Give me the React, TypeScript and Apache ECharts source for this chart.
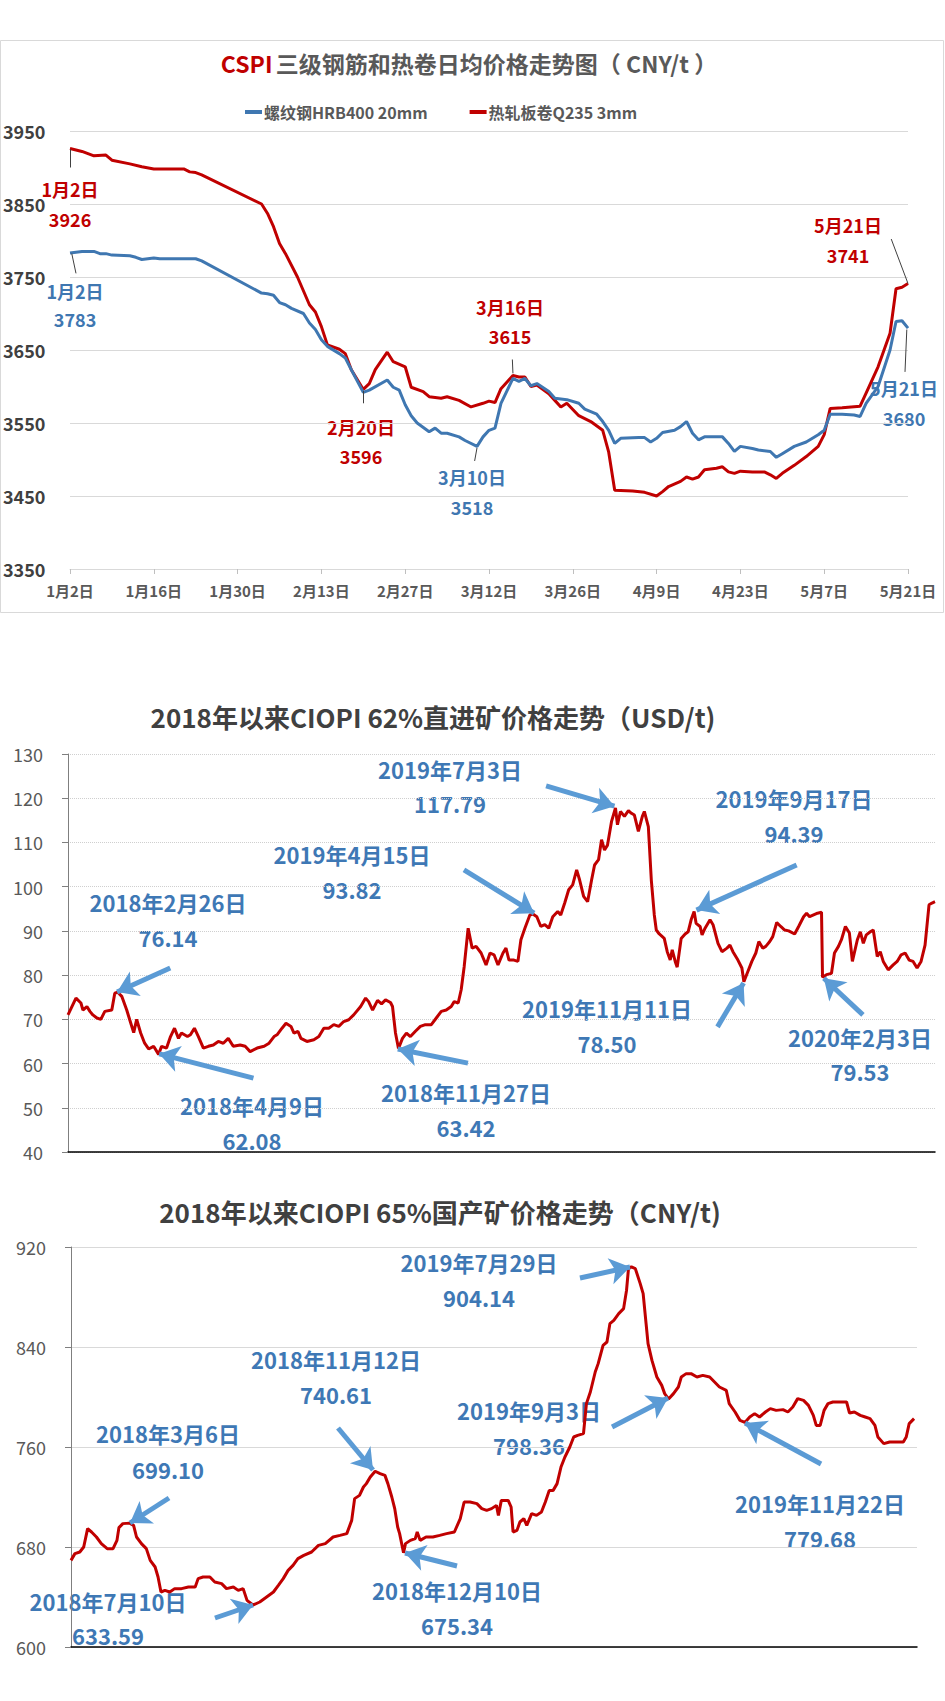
import React, { useEffect, useRef } from "react";
import * as echarts from "echarts";

const FONT = '"Noto Sans CJK SC", "Noto Sans", sans-serif';

// ---------------- Chart 1: CSPI rebar & hot-rolled coil, day index from 2020-01-02 ----------------
const cspiTickInterval = 14;
const cspiLastDay = 140;
const rebarName = "螺纹钢HRB400 20mm";
const hrcName = "热轧板卷Q235 3mm";

const rebarData: [number, number][] = [
  [0, 3783], [2, 3785], [4, 3785], [5, 3782], [6, 3782], [7, 3780], [10, 3779], [11, 3777], [12, 3774],
  [14, 3776], [15, 3775], [21, 3775], [22, 3772], [32, 3728], [33, 3727], [34, 3725], [35, 3715], [36, 3712],
  [37, 3707], [39, 3700], [40, 3687], [41, 3678], [42, 3664], [43, 3655], [45, 3645], [46, 3639], [47, 3623],
  [49, 3592], [50, 3595], [53, 3609], [54, 3599], [55, 3595], [56, 3575], [57, 3560], [58, 3550], [60, 3538],
  [61, 3543], [62, 3536], [63, 3536], [65, 3531], [66, 3526], [68, 3518], [69, 3531], [70, 3540], [71, 3543],
  [72, 3577], [74, 3611], [75, 3607], [76, 3611], [77, 3601], [78, 3604], [80, 3593], [81, 3584], [83, 3582],
  [85, 3577], [86, 3569], [88, 3562], [89, 3552], [90, 3540], [91, 3522], [92, 3529], [95, 3530], [96, 3530],
  [97, 3524], [98, 3529], [99, 3537], [101, 3540], [102, 3545], [103, 3552], [104, 3536], [105, 3527],
  [106, 3531], [109, 3531], [110, 3522], [111, 3511], [112, 3518], [114, 3515], [115, 3513], [117, 3511],
  [118, 3503], [119, 3508], [121, 3518], [123, 3524], [125, 3534], [126, 3540], [127, 3562], [129, 3562],
  [131, 3561], [132, 3559], [133, 3577], [135, 3600], [137, 3650], [138, 3689], [139, 3690], [140, 3680],
];

const hrcData: [number, number][] = [
  [0, 3926], [2, 3922], [4, 3916], [6, 3917], [7, 3910], [10, 3905], [12, 3901], [14, 3898], [19, 3898],
  [20, 3894], [21, 3893], [22, 3890], [32, 3850], [33, 3837], [34, 3819], [35, 3796], [36, 3782], [38, 3750],
  [40, 3712], [41, 3702], [42, 3682], [43, 3657], [45, 3651], [46, 3645], [47, 3623], [49, 3596], [50, 3604],
  [51, 3623], [53, 3647], [54, 3634], [56, 3627], [57, 3599], [59, 3593], [60, 3586], [62, 3584], [63, 3586],
  [65, 3581], [67, 3572], [69, 3577], [70, 3580], [71, 3578], [72, 3597], [74, 3615], [75, 3613], [76, 3613],
  [77, 3600], [78, 3602], [80, 3590], [81, 3581], [82, 3572], [83, 3577], [85, 3560], [87, 3552], [89, 3540],
  [90, 3510], [91, 3458], [94, 3457], [96, 3455], [98, 3450], [99, 3456], [100, 3463], [102, 3470],
  [103, 3476], [104, 3473], [105, 3476], [106, 3486], [108, 3488], [109, 3490], [110, 3483], [111, 3481],
  [112, 3484], [114, 3483], [116, 3483], [117, 3479], [118, 3474], [119, 3481], [121, 3492], [123, 3504],
  [125, 3518], [126, 3534], [127, 3570], [129, 3571], [132, 3573], [133, 3591], [135, 3627], [137, 3673],
  [138, 3734], [139, 3736], [140, 3741],
];

const cspiNoteTexts: [string, string, "red" | "blue"][] = [
  ["1月2日", "3926", "red"],
  ["1月2日", "3783", "blue"],
  ["2月20日", "3596", "red"],
  ["3月10日", "3518", "blue"],
  ["3月16日", "3615", "red"],
  ["5月21日", "3741", "red"],
  ["5月21日", "3680", "blue"],
];

// ---------------- Chart 2: CIOPI 62% imported ore, day index from 2018-01-02 ----------------
const ore62LastDay = 871;
const ore62Data: [number, number][] = [
  [0, 71.0], [8, 74.8], [13, 73.7], [15, 72.1], [19, 72.9], [22, 71.8], [25, 71.0], [29, 70.3], [33, 70.0],
  [37, 71.8], [44, 72.1], [47, 75.9], [50, 76.14], [54, 75.2], [59, 72.1], [62, 69.9], [66, 67.0], [69, 70.0],
  [73, 66.9], [77, 64.6], [81, 63.3], [86, 63.9], [91, 62.08], [94, 63.9], [99, 63.5], [103, 66.1], [107, 68.0],
  [111, 65.7], [114, 66.9], [120, 66.1], [123, 66.5], [127, 68.0], [131, 66.1], [136, 63.5], [141, 63.9],
  [146, 64.2], [151, 65.0], [156, 64.6], [161, 65.7], [166, 63.9], [173, 64.2], [178, 63.9], [183, 62.7],
  [190, 63.5], [197, 63.9], [202, 64.6], [207, 66.1], [210, 66.5], [215, 68.0], [219, 69.1], [224, 68.4],
  [227, 66.9], [231, 67.3], [234, 65.7], [240, 65.0], [247, 65.4], [252, 66.1], [257, 68.0], [262, 68.0],
  [267, 68.8], [272, 68.4], [277, 69.5], [282, 69.9], [287, 71.0], [294, 72.9], [299, 74.8], [302, 74.0],
  [306, 72.1], [311, 74.3], [315, 73.5], [319, 74.4], [324, 73.8], [326, 72.9], [329, 66.9], [332, 63.42],
  [336, 65.7], [340, 66.9], [344, 66.1], [349, 67.3], [354, 68.4], [359, 68.8], [365, 68.8], [370, 70.3],
  [375, 71.8], [380, 72.1], [385, 72.9], [388, 74.0], [392, 73.7], [395, 76.7], [398, 81.9], [402, 90.6],
  [406, 86.1], [410, 86.5], [415, 85.0], [420, 82.3], [424, 85.0], [428, 84.6], [432, 82.3], [437, 85.0],
  [440, 86.1], [443, 83.4], [448, 83.4], [452, 83.1], [455, 88.0], [459, 90.6], [464, 93.6], [467, 93.82],
  [471, 93.2], [475, 91.0], [479, 91.4], [483, 90.6], [487, 93.2], [492, 94.4], [495, 93.6], [499, 96.3],
  [503, 99.3], [507, 100.4], [511, 103.8], [514, 101.5], [518, 97.8], [522, 96.6], [526, 101.5], [529, 104.9],
  [533, 106.1], [536, 110.6], [539, 108.3], [542, 109.4], [546, 114.7], [550, 117.79], [552, 114.0],
  [555, 117.0], [559, 115.9], [563, 117.2], [566, 116.6], [569, 116.2], [573, 112.5], [577, 115.9],
  [579, 117.0], [583, 113.6], [586, 101.5], [589, 93.6], [591, 90.2], [594, 89.3], [599, 88.3], [602, 85.3],
  [605, 83.4], [607, 85.7], [610, 83.1], [612, 81.8], [616, 88.3], [620, 89.3], [623, 89.8], [626, 92.5],
  [629, 94.39], [631, 91.7], [635, 91.0], [637, 89.1], [640, 90.6], [645, 92.5], [648, 91.4], [653, 87.2],
  [657, 85.3], [662, 86.1], [665, 86.8], [668, 85.3], [673, 83.4], [677, 81.6], [679, 78.5], [683, 80.8],
  [687, 83.1], [691, 85.0], [694, 87.6], [698, 86.1], [701, 86.5], [705, 87.6], [708, 88.7], [712, 91.9],
  [716, 91.0], [720, 90.2], [724, 90.0], [730, 89.3], [734, 91.0], [739, 93.2], [742, 94.0], [745, 93.2],
  [749, 93.6], [753, 94.0], [757, 94.2], [758, 79.53], [762, 80.1], [767, 80.4], [770, 85.0], [774, 86.5],
  [777, 88.0], [781, 91.0], [785, 89.5], [788, 83.1], [793, 88.0], [796, 89.8], [799, 87.2], [802, 89.1],
  [806, 89.8], [809, 90.2], [813, 84.2], [816, 85.3], [819, 83.1], [824, 81.2], [829, 82.3], [833, 83.1],
  [837, 84.6], [841, 85.0], [845, 83.4], [849, 83.1], [853, 81.6], [857, 83.1], [861, 86.8], [865, 95.9],
  [868, 96.3], [871, 96.6],
];
const ore62Notes: [string, string][] = [
  ["2018年2月26日", "76.14"],
  ["2018年4月9日", "62.08"],
  ["2018年11月27日", "63.42"],
  ["2019年4月15日", "93.82"],
  ["2019年7月3日", "117.79"],
  ["2019年9月17日", "94.39"],
  ["2019年11月11日", "78.50"],
  ["2020年2月3日", "79.53"],
];

// ---------------- Chart 3: CIOPI 65% domestic ore, day index from 2018-01-02 ----------------
const ore65LastDay = 865;
const ore65Data: [number, number][] = [
  [0, 669.3], [4, 674.7], [9, 676], [13, 680], [17, 694.7], [21, 692], [26, 688], [31, 682.7], [37, 678.7],
  [43, 678.7], [47, 685.3], [49, 695.5], [53, 698.7], [60, 699.1], [64, 697.3], [67, 688], [72, 682.7],
  [77, 678.7], [81, 669.3], [86, 664], [89, 656], [92, 644], [96, 645.3], [101, 644], [106, 646.7],
  [113, 646.7], [120, 648], [127, 648], [130, 654.7], [135, 656], [142, 656], [147, 652], [154, 650.7],
  [159, 646.7], [166, 648], [171, 645.3], [176, 646.7], [180, 637.3], [186, 633.59], [193, 636], [200, 640],
  [207, 644], [212, 649.3], [217, 654.7], [222, 661.3], [227, 665.3], [232, 670.7], [238, 673.3], [246, 676],
  [253, 681.3], [260, 682.7], [268, 688], [275, 689.3], [282, 690.7], [287, 701.3], [290, 718.7],
  [295, 721.3], [299, 728], [302, 730.7], [306, 736], [311, 740.61], [316, 738.7], [321, 737.3], [324, 730.7],
  [328, 720], [331, 710.7], [334, 696], [336, 690.7], [340, 675.34], [342, 682.7], [347, 685.3], [352, 686.7],
  [354, 692], [357, 685.3], [363, 688], [370, 688], [377, 689.3], [384, 690.7], [392, 692], [398, 702.7],
  [402, 716], [408, 716], [415, 714.7], [420, 710.7], [425, 709.3], [430, 710.7], [435, 713.3], [437, 705.3],
  [440, 717.3], [447, 717.3], [450, 712], [452, 692], [456, 693.3], [459, 700], [463, 702.7], [466, 697.3],
  [471, 706.7], [476, 705.3], [481, 708], [485, 716], [489, 725.3], [493, 725.3], [497, 730.7], [501, 744],
  [505, 752], [510, 760], [514, 768], [518, 769.3], [524, 770.7], [527, 794.7], [531, 804], [536, 820],
  [539, 826.7], [544, 841.3], [548, 844], [551, 858.7], [555, 861.3], [560, 866.7], [565, 870.7],
  [568, 885.3], [570, 902.7], [573, 904.14], [577, 902.7], [582, 890.7], [585, 882.7], [588, 858.7],
  [590, 842.7], [594, 829.3], [599, 816], [604, 809.3], [607, 802.7], [611, 798.36], [616, 802.7], [621, 808],
  [624, 816], [629, 818.7], [634, 818.7], [640, 816], [646, 817.3], [653, 816], [658, 812], [663, 808],
  [670, 805.3], [673, 794.7], [679, 788], [684, 781.3], [689, 779.68], [694, 784], [699, 786.7], [704, 784],
  [710, 788], [715, 790.7], [721, 789.3], [728, 789.9], [733, 788], [738, 792], [743, 798.7], [749, 797.3],
  [754, 793.3], [759, 785.3], [762, 777.3], [766, 777.3], [770, 789.3], [774, 794.7], [779, 796], [786, 796],
  [793, 796], [796, 787.2], [801, 788], [807, 785.3], [812, 784], [817, 782.7], [822, 777.3], [825, 768],
  [831, 762.7], [837, 764], [844, 764], [851, 764], [854, 768], [857, 778.7], [862, 782.7],
];
const ore65Notes: [string, string][] = [
  ["2018年3月6日", "699.10"],
  ["2018年7月10日", "633.59"],
  ["2018年11月12日", "740.61"],
  ["2018年12月10日", "675.34"],
  ["2019年7月29日", "904.14"],
  ["2019年9月3日", "798.36"],
  ["2019年11月22日", "779.68"],
];

// ---------------- Layout (pixels / data-space anchors for annotations) ----------------
const cspiNotePos: [number, number, number][] = [
  [70, 189, 219], [75, 291, 319], [361, 427, 456], [472, 477, 507], [510, 307, 336], [848, 225, 255], [904, 388, 418],
];
const ore62NotePos: [number, number, number][] = [
  [168, 902, 937], [252, 1105, 1140], [466, 1092, 1127], [352, 854, 889], [450, 769, 803], [794, 798, 833],
  [607, 1008, 1043], [860, 1037, 1071],
];
const ore65NotePos: [number, number, number][] = [
  [168, 1433, 1469], [108, 1601, 1635], [336, 1359, 1394], [457, 1590, 1625], [479, 1262, 1297],
  [529, 1410, 1445], [820, 1503, 1538],
];
const cspiLeaders: [number, number][][] = [
  [[0, 3925], [0, 3900]],
  [[0.3, 3782], [1, 3755]],
  [[140, 3741], [137.2, 3802]],
  [[74, 3618], [73.9, 3637]],
  [[49, 3594], [49, 3577]],
  [[68, 3516], [67.6, 3498]],
  [[139.8, 3678], [139.5, 3620]],
];
const ore62Arrows: [number, number][][] = [
  [[102.7, 81.6], [49.3, 76.2]],
  [[186.3, 56.7], [91.6, 62.2]],
  [[401.8, 60.1], [331.3, 63.3]],
  [[397.8, 103.8], [468.3, 94.0]],
  [[480.3, 122.8], [549, 118.2]],
  [[732, 104.9], [631.4, 94.7]],
  [[652.5, 68.3], [678.7, 78.2]],
  [[798.6, 71.0], [759.3, 79.3]],
];
const ore65Arrows: [number, number][][] = [
  [[100.2, 719.2], [60.3, 699.2]],
  [[147.2, 623.2], [186.1, 633.6]],
  [[273, 775.2], [308.8, 741.6]],
  [[394.7, 664.8], [341.5, 675.2]],
  [[520.4, 895.2], [571.6, 904]],
  [[553.2, 776], [610.4, 799.2]],
  [[766.9, 746.4], [689.2, 779.2]],
];

const RED = "#C00000";
const BLUE = "#3F77B1";
const NOTE_BLUE = "#3E78B5";
const ARROW_BLUE = "#5B9BD5";

function noteTexts(
  notes: [string, string][],
  pos: [number, number, number][],
  color: string,
  size: number
) {
  const out: any[] = [];
  notes.forEach(([a, b], i) => {
    const [x, y1, y2] = pos[i];
    [
      [a, y1],
      [b, y2],
    ].forEach(([t, y]) => {
      out.push({
        type: "text",
        x,
        y,
        silent: true,
        style: {
          text: t,
          fill: color,
          font: `bold ${size}px ${FONT}`,
          textAlign: "center",
          textVerticalAlign: "middle",
        },
      });
    });
  });
  return out;
}

function arrowLines(pairs: [number, number][][]) {
  return {
    silent: true,
    animation: false,
    symbol: ["none", "arrow"],
    symbolSize: 20,
    label: { show: false },
    lineStyle: { color: ARROW_BLUE, width: 5, type: "solid", opacity: 1 },
    emphasis: { disabled: true },
    data: pairs.map(([a, b]) => [{ coord: a }, { coord: b }]),
  };
}

export default function App() {
  const ref = useRef<HTMLDivElement>(null);

  useEffect(() => {
    document.body.style.margin = "0";
    if (!ref.current) return;
    const chart = echarts.init(ref.current, undefined, { renderer: "svg" });

    const cspiGraphic: any[] = [];
    cspiNoteTexts.forEach(([d, v, c], i) => {
      const [x, y1, y2] = cspiNotePos[i];
      const fill = c === "red" ? RED : BLUE;
      [
        [d, y1],
        [v, y2],
      ].forEach(([t, y]) => {
        cspiGraphic.push({
          type: "text",
          x,
          y,
          silent: true,
          style: {
            text: t,
            fill,
            font: `bold 18px ${FONT}`,
            textAlign: "center",
            textVerticalAlign: "middle",
          },
        });
      });
    });

    const yLabel2 = { fontSize: 18, color: "#595959", fontFamily: FONT, margin: 25 };

    const option: any = {
      animation: false,
      backgroundColor: "#ffffff",
      textStyle: { fontFamily: FONT },
      legend: {
        data: [rebarName, hrcName],
        left: 240,
        top: 99,
        icon: "rect",
        itemWidth: 17,
        itemHeight: 4,
        itemGap: 42,
        textStyle: { fontSize: 16, fontWeight: "bold", color: "#595959", fontFamily: FONT, padding: [0, 0, 0, -3] },
      },
      grid: [
        { left: 69, top: 131, width: 839, height: 438 },
        { left: 68, top: 754, width: 867, height: 398 },
        { left: 71, top: 1247, width: 846, height: 400 },
      ],
      xAxis: [
        {
          type: "value",
          gridIndex: 0,
          min: 0,
          max: cspiLastDay,
          interval: cspiTickInterval,
          axisLine: { show: true, onZero: false, lineStyle: { color: "#d9d9d9", width: 1 } },
          axisTick: { show: true, length: 5, lineStyle: { color: "#bfbfbf" } },
          splitLine: { show: false },
          axisLabel: {
            margin: 14,
            fontSize: 15,
            fontWeight: "bold",
            color: "#595959",
            fontFamily: FONT,
            formatter: (v: number) => {
              const d = new Date(2020, 0, 2 + v);
              return `${d.getMonth() + 1}月${d.getDate()}日`;
            },
          },
        },
        {
          type: "value",
          gridIndex: 1,
          min: 0,
          max: ore62LastDay,
          axisLine: { show: true, onZero: false, lineStyle: { color: "#000000", width: 1.5 } },
          axisTick: { show: false },
          axisLabel: { show: false },
          splitLine: { show: false },
        },
        {
          type: "value",
          gridIndex: 2,
          min: 0,
          max: ore65LastDay,
          axisLine: { show: true, onZero: false, lineStyle: { color: "#000000", width: 1.5 } },
          axisTick: { show: false },
          axisLabel: { show: false },
          splitLine: { show: false },
        },
      ],
      yAxis: [
        {
          type: "value",
          gridIndex: 0,
          min: 3350,
          max: 3950,
          interval: 100,
          axisLine: { show: false },
          axisTick: { show: false },
          axisLabel: {
            align: "left",
            margin: 67,
            fontSize: 18,
            fontWeight: "bold",
            color: "#404040",
            fontFamily: FONT,
            formatter: (v: number) => String(v),
          },
          splitLine: { lineStyle: { color: "#d9d9d9", width: 1 } },
        },
        {
          type: "value",
          gridIndex: 1,
          min: 40,
          max: 130,
          interval: 10,
          axisLine: { show: true, onZero: false, lineStyle: { color: "#7f7f7f", width: 1 } },
          axisTick: { show: true, length: 6, lineStyle: { color: "#7f7f7f" } },
          axisLabel: yLabel2,
          splitLine: { lineStyle: { color: "#cfcfcf", type: "dotted", width: 1 } },
        },
        {
          type: "value",
          gridIndex: 2,
          min: 600,
          max: 920,
          interval: 80,
          axisLine: { show: true, onZero: false, lineStyle: { color: "#7f7f7f", width: 1 } },
          axisTick: { show: true, length: 6, lineStyle: { color: "#7f7f7f" } },
          axisLabel: yLabel2,
          splitLine: { lineStyle: { color: "#d9d9d9", width: 1 } },
        },
      ],
      series: [
        {
          name: rebarName,
          type: "line",
          xAxisIndex: 0,
          yAxisIndex: 0,
          data: rebarData,
          symbol: "none",
          showSymbol: false,
          lineStyle: { width: 3, color: BLUE },
          itemStyle: { color: BLUE },
          z: 3,
        },
        {
          name: hrcName,
          type: "line",
          xAxisIndex: 0,
          yAxisIndex: 0,
          data: hrcData,
          symbol: "none",
          showSymbol: false,
          lineStyle: { width: 3, color: RED },
          itemStyle: { color: RED },
          z: 2,
          markLine: {
            silent: true,
            animation: false,
            symbol: ["none", "none"],
            label: { show: false },
            lineStyle: { color: "#404040", width: 1, type: "solid" },
            emphasis: { disabled: true },
            data: cspiLeaders.map(([a, b]) => [{ coord: a }, { coord: b }]),
          },
        },
        {
          name: "CIOPI 62%",
          type: "line",
          xAxisIndex: 1,
          yAxisIndex: 1,
          data: ore62Data,
          symbol: "none",
          showSymbol: false,
          lineStyle: { width: 3, color: RED },
          itemStyle: { color: RED },
          markLine: arrowLines(ore62Arrows),
        },
        {
          name: "CIOPI 65%",
          type: "line",
          xAxisIndex: 2,
          yAxisIndex: 2,
          data: ore65Data,
          symbol: "none",
          showSymbol: false,
          lineStyle: { width: 3, color: RED },
          itemStyle: { color: RED },
          markLine: arrowLines(ore65Arrows),
        },
      ],
      graphic: [
        {
          type: "rect",
          z: -10,
          silent: true,
          shape: { x: 0.5, y: 40.5, width: 943, height: 572 },
          style: { fill: "none", stroke: "#d9d9d9", lineWidth: 1 },
        },
        {
          type: "text",
          x: 469,
          y: 63,
          silent: true,
          style: {
            text: "{a|CSPI} {b|三级钢筋和热卷日均价格走势图（ CNY/t ）}",
            textAlign: "center",
            textVerticalAlign: "middle",
            rich: {
              a: { fill: RED, fontSize: 23, fontWeight: "bold", fontFamily: FONT },
              b: { fill: "#595959", fontSize: 23, fontWeight: "bold", fontFamily: FONT },
            },
          },
        },
        {
          type: "text",
          x: 433,
          y: 716,
          silent: true,
          style: {
            text: "2018年以来CIOPI 62%直进矿价格走势（USD/t)",
            fill: "#404040",
            font: `bold 26px ${FONT}`,
            textAlign: "center",
            textVerticalAlign: "middle",
          },
        },
        {
          type: "text",
          x: 440,
          y: 1211,
          silent: true,
          style: {
            text: "2018年以来CIOPI 65%国产矿价格走势（CNY/t)",
            fill: "#404040",
            font: `bold 26px ${FONT}`,
            textAlign: "center",
            textVerticalAlign: "middle",
          },
        },
        ...cspiGraphic,
        ...noteTexts(ore62Notes, ore62NotePos, NOTE_BLUE, 22),
        ...noteTexts(ore65Notes, ore65NotePos, NOTE_BLUE, 22),
      ],
    };

    chart.setOption(option);
    return () => chart.dispose();
  }, []);

  return <div ref={ref} style={{ width: 945, height: 1701 }} />;
}
